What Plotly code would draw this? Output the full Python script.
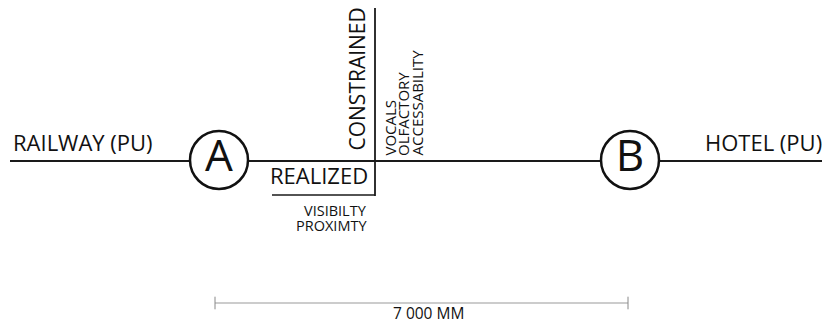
import plotly.graph_objects as go

# Route endpoints and labels
route_x = [10, 822]
route_y = [161, 161]
end_labels = ["RAILWAY (PU)", "HOTEL (PU)"]
end_label_x = [11, 824]

# Nodes on the route
nodes = ["A", "B"]
node_x = [219, 630]
node_y = [160, 160]

# Axis of realized / constrained
axis_x = [375, 375]
axis_y = [8, 196]
realized_x = [272, 375]
realized_y = [195, 195]
realized_items = ["VISIBILTY", "PROXIMTY"]
constrained_items = ["VOCALS", "OLFACTORY", "ACCESSABILITY"]

# Scale bar
scale_x = [215, 628]
scale_y = [303, 303]
scale_label = "7 000 MM"

FONT = "Open Sans"
fig = go.Figure()

# main route line
fig.add_trace(go.Scatter(x=route_x, y=route_y, mode="lines",
                         line=dict(color="#1a1a1a", width=2.2), hoverinfo="skip"))
# circle nodes (white fill hides the line inside)
fig.add_trace(go.Scatter(x=node_x, y=node_y, mode="markers+text", text=nodes,
                         textposition="middle center",
                         textfont=dict(family=FONT, size=44, color="#111"),
                         marker=dict(symbol="circle", size=58, color="white",
                                     line=dict(color="#111", width=2.5)),
                         hoverinfo="skip"))
# vertical axis + realized underline
fig.add_trace(go.Scatter(x=axis_x, y=axis_y, mode="lines",
                         line=dict(color="#1a1a1a", width=1.8), hoverinfo="skip"))
fig.add_trace(go.Scatter(x=realized_x, y=realized_y, mode="lines",
                         line=dict(color="#1a1a1a", width=1.5), hoverinfo="skip"))
# scale bar with end ticks
fig.add_trace(go.Scatter(x=scale_x, y=scale_y, mode="lines+markers",
                         line=dict(color="#999", width=1),
                         marker=dict(symbol="line-ns", size=9,
                                     line=dict(color="#888", width=1)),
                         hoverinfo="skip"))

# end labels
fig.add_annotation(x=end_label_x[0], y=159, text=end_labels[0], xanchor="left",
                   yanchor="bottom", showarrow=False,
                   font=dict(family=FONT, size=22, color="#111"))
fig.add_annotation(x=end_label_x[1], y=159, text=end_labels[1], xanchor="right",
                   yanchor="bottom", showarrow=False,
                   font=dict(family=FONT, size=22, color="#111"))

# realized block
fig.add_annotation(x=370, y=192, text="REALIZED", xanchor="right", yanchor="bottom",
                   showarrow=False, font=dict(family=FONT, size=22, color="#111"))
for i, t in enumerate(realized_items):
    fig.add_annotation(x=369, y=210 + 15 * i, text=t, xanchor="right", yanchor="middle",
                       showarrow=False, font=dict(family=FONT, size=14.5, color="#111"))

# constrained block (rotated)
fig.add_annotation(x=372, y=153, text="CONSTRAINED", textangle=-90, xanchor="right",
                   yanchor="bottom", showarrow=False,
                   font=dict(family=FONT, size=21, color="#111"))
for i, t in enumerate(constrained_items):
    fig.add_annotation(x=389.5 + 13.5 * i, y=158, text=t, textangle=-90, xanchor="center",
                       yanchor="bottom", showarrow=False,
                       font=dict(family=FONT, size=15, color="#111"))

# scale label
fig.add_annotation(x=428, y=313, text=scale_label, xanchor="center", yanchor="middle",
                   showarrow=False, font=dict(family=FONT, size=15.5, color="#111"))

fig.update_xaxes(range=[0, 832], visible=False)
fig.update_yaxes(range=[323, 0], visible=False)
fig.update_layout(width=832, height=323, margin=dict(l=0, r=0, t=0, b=0),
                  plot_bgcolor="white", paper_bgcolor="white", showlegend=False)

fig.write_html("out.html", config={"displayModeBar": False},
               post_script="document.body.style.margin='0px';")
